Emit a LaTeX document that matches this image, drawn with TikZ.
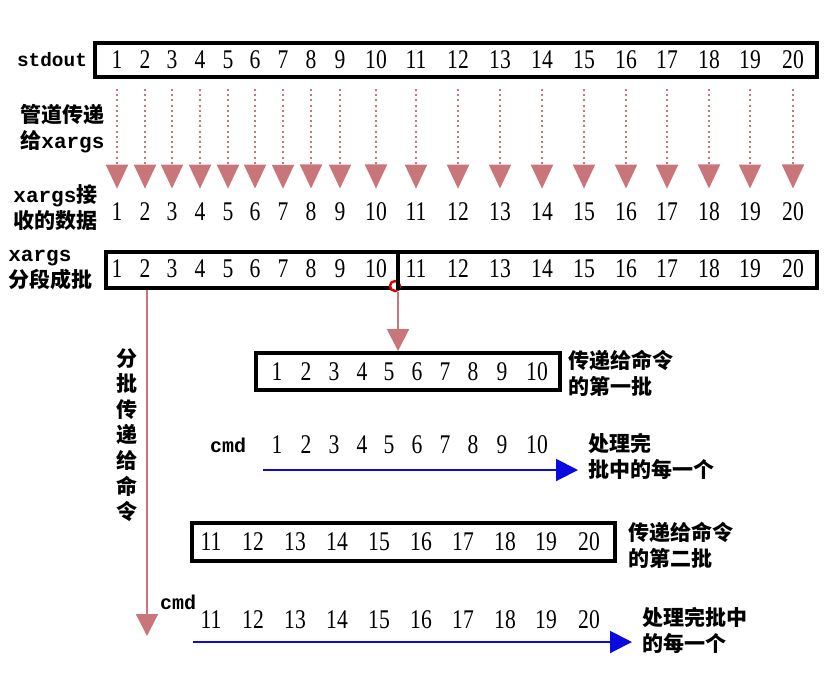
\documentclass[tikz,border=0pt]{standalone}
\usepackage{fontspec}
\setmainfont{Liberation Serif}
\setmonofont{Liberation Mono}
\newfontfamily\cjk{Noto Sans CJK SC}
\newfontfamily\digitfont{Liberation Serif}[FakeStretch=0.8]
\usepackage{tikz}
\usetikzlibrary{arrows.meta}
\definecolor{arrowpink}{RGB}{200,118,122}
\definecolor{runblue}{RGB}{10,10,225}
\newcommand{\zh}[1]{{\cjk\bfseries #1}}
\newcommand{\cli}[1]{{\ttfamily\bfseries #1}}
\tikzstyle{frame} = [rectangle, draw=black, line width=2pt, inner sep=0pt]
\tikzstyle{num} = [font=\digitfont\fontsize{13.5}{15}\selectfont, inner sep=1pt]
\tikzstyle{lbl} = [font=\fontsize{10.5}{13}\selectfont, align=left, anchor=west, inner sep=0pt]
\tikzstyle{pipe} = [draw=arrowpink, line width=1pt, dash pattern=on 1pt off 1.6pt, shorten <=5pt, shorten >=6pt, -{Triangle[width=11pt,length=12pt]}]
\tikzstyle{pinkarrow} = [draw=arrowpink, line width=1pt, -{Triangle[width=11pt,length=11pt]}]
\tikzstyle{bluearrow} = [draw=runblue, line width=1pt, -{Triangle[width=11pt,length=11pt]}]

\begin{document}
\begin{tikzpicture}[x=0.5pt, y=-0.5pt]
\useasboundingbox (0,0) rectangle (840,692);

\node (stdbox) [frame, minimum width=361pt, minimum height=17pt] at (456,60) {};
\node (batchbox) [frame, minimum width=355.5pt, minimum height=18pt] at (461.5,270) {};
\node (firstbox) [frame, minimum width=152pt, minimum height=18.5pt] at (408,371.5) {};
\node (secondbox) [frame, minimum width=211.5pt, minimum height=19pt] at (403.5,542) {};

\foreach \i/\x in {1/117,2/145,3/172,4/200,5/228,6/255,7/283,8/311,9/340,10/376,11/416,12/458,13/500,14/542,15/584,16/626,17/667,18/709,19/750,20/793} {
  \node (s\i) [num] at (\x,60) {\i};
  \node (r\i) [num] at (\x,212) {\i};
  \node (b\i) [num] at (\x,269) {\i};
}
\foreach \i/\x in {1/277,2/306,3/334,4/362,5/389,6/417,7/445,8/473,9/502,10/537} {
  \node (f\i) [num] at (\x,372) {\i};
  \node (c\i) [num] at (\x,445) {\i};
}
\foreach \i/\x in {11/211,12/253,13/295,14/337,15/379,16/421,17/463,18/505,19/546,20/589} {
  \node (g\i) [num] at (\x,542) {\i};
  \node (d\i) [num] at (\x,620) {\i};
}

\node (stdout) [font=\fontsize{9.7}{12}\selectfont] at (52,60) {\cli{stdout}};
\node (pipelbl) [lbl] at (20,129) {\zh{管道传递}\\\zh{给}\cli{xargs}};
\node (recvlbl) [lbl] at (13,208) {\cli{xargs}\zh{接}\\\zh{收的数据}};
\node (batchlbl) [lbl] at (8,270) {\cli{xargs}\\\zh{分段成批}};
\node (sendlbl) [lbl, align=center, anchor=center, font=\fontsize{10.5}{12.8}\selectfont] at (127,435) {\zh{分}\\\zh{批}\\\zh{传}\\\zh{递}\\\zh{给}\\\zh{命}\\\zh{令}};
\node (firstlbl) [lbl] at (568,373) {\zh{传递给命令}\\\zh{的第一批}};
\node (cmd1) [font=\fontsize{10}{12}\selectfont] at (228,445) {\cli{cmd}};
\node (run1lbl) [lbl] at (588,456) {\zh{处理完}\\\zh{批中的每一个}};
\node (secondlbl) [lbl] at (628,545) {\zh{传递给命令}\\\zh{的第二批}};
\node (cmd2) [font=\fontsize{10}{12}\selectfont] at (178,602) {\cli{cmd}};
\node (run2lbl) [lbl] at (642,630) {\zh{处理完批中}\\\zh{的每一个}};

\coordinate (cut) at (398,270);
\coordinate (down) at (147,636);
\coordinate (run1a) at (263,470);
\coordinate (run1b) at (578,470);
\coordinate (run2a) at (193,642);
\coordinate (run2b) at (632,642);
\node (pick) [circle, draw=red!85!black, fill=white, line width=1.2pt, minimum size=5pt, inner sep=0pt] at (395,286) {};

\foreach \i in {1,...,20}
  \draw [pipe] (s\i |- stdbox.south) -- (r\i.north);
\draw [line width=2pt] (cut |- batchbox.north) -- (cut |- batchbox.south);
\draw [pinkarrow] (cut |- pick.south) -- (cut |- firstbox.north);
\draw [pinkarrow] (down |- batchbox.south) -- (down);
\draw [bluearrow] (run1a) -- (run1b);
\draw [bluearrow] (run2a) -- (run2b);
\end{tikzpicture}
\end{document}
